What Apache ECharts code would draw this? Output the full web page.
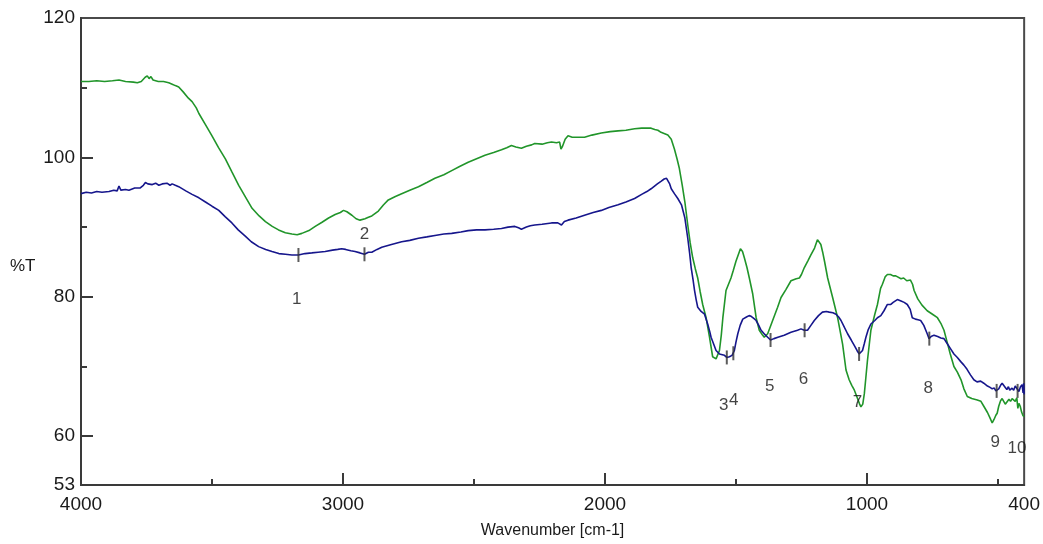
<!DOCTYPE html>
<html>
<head>
<meta charset="utf-8">
<script src="https://cdn.jsdelivr.net/npm/echarts@6/dist/echarts.min.js"></script>
<style>
html,body{margin:0;padding:0;background:#fff;}
#chart{width:1043px;height:544px;}
</style>
</head>
<body>
<div id="chart"></div>
<script>
// ---- data (wavenumber cm-1, %T) ----
const greenWn = [4000,3970,3940,3910,3880,3855,3830,3800,3785,3770,3755,3747,3740,3733,3725,3705,3685,3665,3652,3640,3627,3610,3590,3576,3560,3550,3525,3500,3475,3449,3425,3398,3372,3347,3320,3296,3270,3246,3220,3195,3175,3157,3130,3106,3080,3055,3030,3010,2998,2985,2966,2950,2935,2916,2903,2890,2865,2845,2827,2800,2776,2745,2712,2680,2649,2615,2585,2555,2522,2490,2458,2425,2395,2375,2357,2340,2319,2300,2280,2268,2240,2220,2204,2185,2173,2168,2162,2152,2141,2125,2100,2078,2050,2014,1980,1950,1920,1887,1860,1840,1824,1810,1798,1786,1772,1760,1747,1735,1725,1716,1705,1695,1684,1675,1665,1655,1646,1637,1627,1614,1601,1589,1576,1563,1556,1550,1538,1519,1510,1500,1483,1475,1468,1458,1449,1436,1423,1411,1400,1392,1379,1370,1360,1341,1328,1310,1290,1270,1258,1250,1239,1225,1214,1200,1189,1182,1176,1169,1162,1150,1131,1112,1093,1080,1068,1058,1048,1036,1028,1023,1016,1010,1004,998,985,970,960,948,941,930,922,910,900,890,884,870,860,848,834,826,820,806,790,770,750,731,718,706,694,682,668,655,640,630,617,600,579,565,554,540,530,522,515,508,503,497,490,484,478,472,465,458,452,446,440,434,428,424,420,415,410,405,401,400];
const greenT  = [110.9,110.9,111.0,110.9,111.0,111.1,110.9,110.8,110.7,110.9,111.5,111.7,111.3,111.6,111.1,110.9,110.9,110.7,110.5,110.3,110.1,109.4,108.5,108.0,107.1,106.3,104.7,103.1,101.4,99.8,98.0,96.0,94.3,92.7,91.6,90.8,90.1,89.6,89.2,89.0,88.9,89.1,89.5,90.1,90.7,91.3,91.8,92.1,92.4,92.2,91.7,91.2,91.0,91.2,91.4,91.6,92.3,93.2,93.9,94.4,94.8,95.3,95.8,96.4,97.0,97.5,98.1,98.7,99.3,99.8,100.3,100.7,101.1,101.4,101.7,101.5,101.3,101.6,101.8,102.0,101.9,102.1,102.2,102.1,102.2,101.2,101.6,102.6,103.1,102.9,102.9,102.9,103.2,103.5,103.7,103.8,103.9,104.1,104.2,104.2,104.2,104.0,103.9,103.6,103.4,103.2,102.6,101.2,99.8,98.4,96.0,93.6,90.3,87.8,85.6,84.0,82.7,80.8,78.9,77.0,74.2,71.4,71.1,72.3,74.5,77.0,80.9,82.7,83.8,85.1,86.9,86.5,85.6,84.2,82.7,80.4,77.0,75.2,74.6,74.2,74.7,75.6,76.6,78.5,79.9,81.0,82.3,82.6,82.7,83.2,84.2,85.2,86.0,87.0,88.2,88.3,87.5,86.4,85.1,82.7,79.9,77.0,73.2,69.5,68.1,67.3,66.6,65.4,64.6,64.2,64.6,66.1,68.5,70.9,75.2,77.5,78.9,81.2,81.8,82.9,83.2,83.2,83.0,83.0,83.0,82.6,82.7,82.3,82.4,81.8,80.9,79.7,78.8,78.0,77.5,77.0,76.2,75.2,73.5,71.8,70.0,69.2,68.0,66.8,65.7,65.4,65.2,65.0,64.3,63.4,62.6,61.9,62.4,63.0,63.3,64.3,65.1,65.4,65.2,64.6,64.7,65.3,65.0,65.4,65.2,65.0,65.5,64.0,64.7,64.3,63.5,63.0,62.8,63.0];

const blueWn = [4000,3980,3960,3940,3920,3893,3875,3862,3855,3848,3830,3817,3795,3775,3762,3754,3745,3728,3715,3703,3690,3672,3660,3652,3640,3627,3600,3576,3550,3525,3500,3474,3450,3424,3400,3373,3350,3322,3295,3271,3245,3220,3195,3170,3145,3119,3095,3068,3040,3020,3005,2990,2970,2954,2935,2918,2903,2890,2870,2852,2815,2776,2745,2712,2680,2649,2615,2585,2550,2522,2490,2458,2425,2395,2370,2344,2330,2319,2300,2285,2268,2240,2204,2180,2166,2155,2141,2110,2078,2045,2014,1985,1950,1920,1887,1860,1840,1824,1800,1785,1774,1765,1760,1753,1747,1735,1722,1708,1695,1684,1677,1671,1664,1658,1652,1646,1633,1620,1608,1600,1595,1586,1576,1563,1552,1544,1535,1525,1515,1506,1500,1493,1484,1474,1460,1450,1442,1432,1423,1413,1404,1390,1379,1368,1355,1340,1316,1290,1265,1252,1239,1232,1227,1214,1201,1185,1170,1155,1144,1130,1118,1108,1099,1086,1074,1060,1048,1038,1030,1024,1017,1010,1004,995,985,970,960,947,935,922,909,900,884,870,858,846,835,827,815,805,795,783,770,763,755,744,730,718,706,694,680,668,655,642,630,618,605,592,580,566,554,540,530,522,514,508,503,497,490,484,478,472,466,460,455,452,446,440,434,427,420,414,408,404,402,400];
const blueT  = [94.8,95.0,94.9,95.1,95.0,95.1,95.3,95.2,95.9,95.3,95.4,95.3,95.6,95.6,96.0,96.4,96.2,96.1,96.3,96.0,96.2,96.3,96.0,96.2,96.0,95.8,95.2,94.7,94.2,93.6,93.0,92.4,91.5,90.6,89.6,88.7,87.9,87.2,86.8,86.5,86.2,86.1,86.0,86.0,86.2,86.3,86.4,86.5,86.7,86.8,86.9,86.8,86.6,86.5,86.3,86.1,86.4,86.4,86.8,87.1,87.5,87.9,88.1,88.4,88.6,88.8,89.0,89.1,89.3,89.5,89.6,89.6,89.7,89.8,90.0,90.1,89.9,89.7,90.0,90.2,90.3,90.4,90.6,90.6,90.3,90.8,91.0,91.3,91.7,92.1,92.4,92.8,93.2,93.6,94.1,94.7,95.1,95.5,96.2,96.6,96.9,97.0,96.8,96.2,95.5,94.8,94.1,93.2,91.3,88.4,86.3,84.2,82.5,80.9,79.6,78.5,77.9,77.5,76.1,75.0,74.2,73.3,72.3,71.8,71.7,71.6,71.3,71.4,71.6,72.3,73.5,74.7,75.9,76.8,77.1,77.3,77.2,76.9,76.6,75.9,75.2,74.6,74.2,73.8,74.0,74.2,74.5,74.9,75.2,75.4,75.2,75.0,75.2,75.9,76.6,77.3,77.8,77.9,77.8,77.7,77.5,77.1,76.6,75.6,74.7,73.8,73.0,72.3,71.8,71.6,72.3,73.3,74.2,75.3,76.1,76.6,77.0,77.3,78.0,78.9,78.9,79.2,79.6,79.4,79.2,78.9,78.2,77.0,76.8,76.7,76.6,75.9,74.7,74.0,74.3,74.5,74.3,74.1,74.0,73.3,72.5,71.8,71.3,70.7,70.2,69.6,68.8,68.1,67.8,67.9,67.6,67.2,67.0,66.8,66.9,66.5,66.4,66.8,67.3,67.6,67.6,67.0,66.7,67.1,66.6,66.4,66.9,66.6,67.2,67.0,66.4,67.1,67.4,66.2,67.6,66.0];

// peak picks (marker on blue trace) and their number labels
const peakNames = ['1','2','3','4','5','6','7','8','9','10'];
const peakWn    = [3170,2918,1535,1510,1368,1238,1030,762,505,425];
const peakT     = [86.0,86.1,71.3,71.9,73.8,75.2,71.8,74.0,66.5,66.5];
const labelWn   = [3177,2918,1547,1509,1371,1242,1036,766,510,427];
const labelT    = [79.6,89.0,64.5,65.1,67.1,68.2,64.8,66.8,59.1,58.3];

// axis ticks / labels
const xLabelVals = [4000,3000,2000,1000,400];
const xMajorTicks = [3000,2000,1000];
const xMinorTicks = [3500,2500,1500,500];
const yLabelVals = [53,60,80,100,120];
const yMajorTicks = [60,80,100];
const yMinorTicks = [70,90,110];

const zip = (a,b) => a.map((v,i)=>[v,b[i]]);
const FONT = 'Liberation Sans, Arial, sans-serif';
const TXT = '#1a1a1a';
const AX = '#3a3a3a';

const chart = echarts.init(document.getElementById('chart'), null, {renderer:'canvas'});
chart.setOption({
  animation:false,
  backgroundColor:'#fff',
  grid:{left:81,right:16,top:18,bottom:57,show:true,borderColor:'#4a4a4a',borderWidth:2,backgroundColor:'transparent'},
  xAxis:[{
    type:'value',min:400,max:4000,inverse:true,
    axisLine:{show:true,onZero:false,lineStyle:{color:AX,width:2}},
    splitLine:{show:false},
    axisTick:{show:true,inside:true,length:12,customValues:xMajorTicks,lineStyle:{color:AX,width:2}},
    axisLabel:{show:true,customValues:xLabelVals,formatter:v=>String(v),fontSize:19,fontFamily:FONT,color:TXT,margin:10},
    name:'Wavenumber [cm-1]',nameLocation:'middle',nameGap:38,
    nameTextStyle:{fontSize:16,fontFamily:FONT,color:TXT}
  },{
    type:'value',min:400,max:4000,inverse:true,position:'bottom',
    axisLine:{show:false},splitLine:{show:false},axisLabel:{show:false},
    axisTick:{show:true,inside:true,length:6,customValues:xMinorTicks,lineStyle:{color:AX,width:2}}
  }],
  yAxis:[{
    type:'value',min:53,max:120,
    axisLine:{show:true,onZero:false,lineStyle:{color:AX,width:2}},
    splitLine:{show:false},
    axisTick:{show:true,inside:true,length:12,customValues:yMajorTicks,lineStyle:{color:AX,width:2}},
    axisLabel:{show:true,customValues:yLabelVals,formatter:v=>String(v),fontSize:19,fontFamily:FONT,color:TXT,margin:6,padding:[5,0,0,0]}
  },{
    type:'value',min:53,max:120,position:'left',
    axisLine:{show:false},splitLine:{show:false},axisLabel:{show:false},
    axisTick:{show:true,inside:true,length:6,customValues:yMinorTicks,lineStyle:{color:AX,width:2}}
  }],
  graphic:[{type:'text',left:10,top:258,style:{text:'%T',fontSize:17,fontFamily:FONT,fill:TXT}}],
  series:[
    {type:'line',name:'green',data:zip(greenWn,greenT),showSymbol:false,symbol:'none',
     lineStyle:{color:'#21952a',width:1.6},z:3},
    {type:'line',name:'blue',data:zip(blueWn,blueT),showSymbol:false,symbol:'none',
     lineStyle:{color:'#16168c',width:1.6},z:4},
    {type:'scatter',name:'marks',data:zip(peakWn,peakT),symbol:'rect',symbolSize:[2,14],
     itemStyle:{color:'#333'},z:5},
    {type:'scatter',name:'labels',
     data:labelWn.map((w,i)=>({name:peakNames[i],value:[w,labelT[i]]})),
     symbolSize:1,itemStyle:{color:'rgba(0,0,0,0)'},
     label:{show:true,position:'inside',formatter:'{b}',fontSize:17,fontFamily:FONT,color:'#141414'},z:6}
  ]
});
</script>
</body>
</html>
